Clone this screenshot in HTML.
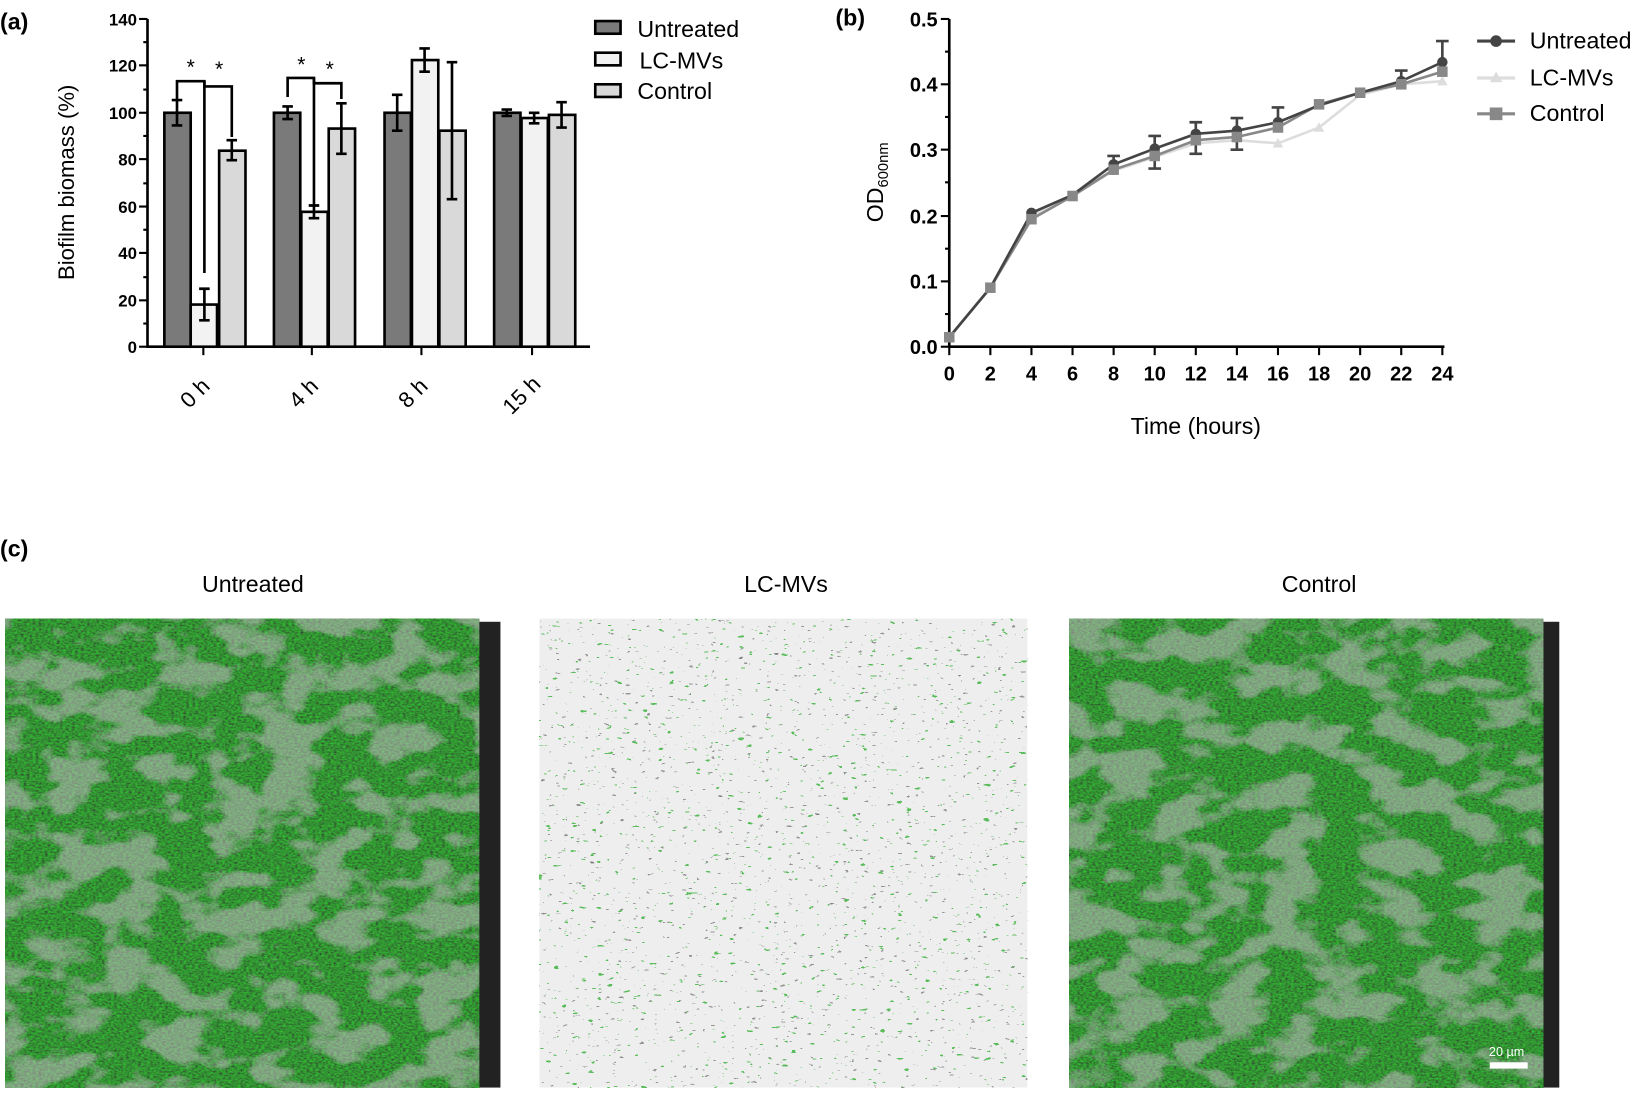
<!DOCTYPE html>
<html><head><meta charset="utf-8"><style>
html,body{margin:0;padding:0;background:#fff}
svg{display:block}
text{font-family:"Liberation Sans",sans-serif}
</style></head><body>
<svg width="1652" height="1096" viewBox="0 0 1568 1040" preserveAspectRatio="none">
<defs>
<filter id="gtex" x="0" y="0" width="100%" height="100%">
 <feTurbulence type="fractalNoise" baseFrequency="0.35 0.6" numOctaves="2" seed="3" result="n"/>
 <feColorMatrix in="n" type="matrix" values="0 0 0 0 0.03  0.7 0 0 0 -0.06  0 0 0 0 0.03  0 0 0 0 1" result="g"/>
 <feTurbulence type="fractalNoise" baseFrequency="0.02 0.035" numOctaves="3" seed="7" result="big"/>
 <feColorMatrix in="big" type="matrix" values="0 0 0 0 0.55  0 0 0 0 0.55  0 0 0 0 0.55  0 0 0 -7 3.7" result="gray0"/>
 <feComponentTransfer in="gray0" result="gray"><feFuncA type="linear" slope="0.35"/></feComponentTransfer>
 <feComposite in="gray" in2="g" operator="over"/>
</filter>
<filter id="ltex" x="0" y="0" width="100%" height="100%">
 <feTurbulence type="fractalNoise" baseFrequency="0.12 0.3" numOctaves="2" seed="11" result="n"/>
 <feComponentTransfer in="n" result="d"><feFuncA type="discrete" tableValues="0 0 0 0 0 0 1 1"/></feComponentTransfer>
 <feColorMatrix in="d" type="matrix" values="0 0 0 0 0.1  0 0 0 0 0.5  0 0 0 0 0.1  0 0 0 1 0" result="gr"/>
 <feTurbulence type="fractalNoise" baseFrequency="0.15 0.35" numOctaves="2" seed="29" result="n2"/>
 <feComponentTransfer in="n2" result="d2"><feFuncA type="discrete" tableValues="0 0 0 0 0 0 0.7 1"/></feComponentTransfer>
 <feColorMatrix in="d2" type="matrix" values="0 0 0 0 0.15  0 0 0 0 0.15  0 0 0 0 0.15  0 0 0 1 0" result="bk"/>
 <feComposite in="gr" in2="bk" operator="over"/>
</filter>
</defs>

<!-- Panel a -->
<text x="0" y="28" font-size="22" font-weight="bold">(a)</text>
<g stroke="#000" stroke-width="2.5">
 <line x1="140" y1="18" x2="140" y2="330"/>
 <line x1="139" y1="329" x2="560" y2="329"/>
 <g stroke-width="2">
 <line x1="132" y1="18" x2="140" y2="18"/><line x1="132" y1="62" x2="140" y2="62"/><line x1="132" y1="107" x2="140" y2="107"/><line x1="132" y1="151" x2="140" y2="151"/><line x1="132" y1="196" x2="140" y2="196"/><line x1="132" y1="240" x2="140" y2="240"/><line x1="132" y1="285" x2="140" y2="285"/><line x1="132" y1="329" x2="140" y2="329"/>
 <line x1="136" y1="40" x2="140" y2="40"/><line x1="136" y1="85" x2="140" y2="85"/><line x1="136" y1="129" x2="140" y2="129"/><line x1="136" y1="174" x2="140" y2="174"/><line x1="136" y1="218" x2="140" y2="218"/><line x1="136" y1="263" x2="140" y2="263"/><line x1="136" y1="307" x2="140" y2="307"/>
 <line x1="193" y1="329" x2="193" y2="337"/><line x1="296" y1="329" x2="296" y2="337"/><line x1="400" y1="329" x2="400" y2="337"/><line x1="505" y1="329" x2="505" y2="337"/>
 </g>
</g>
<g font-size="16" font-weight="bold" text-anchor="end">
<text x="130" y="24">140</text><text x="130" y="68">120</text><text x="130" y="113">100</text><text x="130" y="157">80</text><text x="130" y="202">60</text><text x="130" y="246">40</text><text x="130" y="291">20</text><text x="130" y="335">0</text>
</g>
<text transform="translate(70,173) rotate(-90)" font-size="21" text-anchor="middle">Biofilm biomass (%)</text>
<g font-size="21" text-anchor="middle">
<text transform="translate(190,378) rotate(-45)">0 h</text>
<text transform="translate(293,378) rotate(-45)">4 h</text>
<text transform="translate(397,378) rotate(-45)">8 h</text>
<text transform="translate(500,380) rotate(-45)">15 h</text>
</g>
<g stroke="#000" stroke-width="2.5">
 <rect x="156" y="107" width="25" height="222" fill="#7a7a7a"/>
 <rect x="181" y="289" width="25" height="40" fill="#f2f2f2"/>
 <rect x="208" y="143" width="25" height="186" fill="#d9d9d9"/>
 <rect x="260" y="107" width="25" height="222" fill="#7a7a7a"/>
 <rect x="286" y="201" width="25" height="128" fill="#f2f2f2"/>
 <rect x="312" y="122" width="25" height="207" fill="#d9d9d9"/>
 <rect x="365" y="107" width="25" height="222" fill="#7a7a7a"/>
 <rect x="391" y="57" width="25" height="272" fill="#f2f2f2"/>
 <rect x="417" y="124" width="25" height="205" fill="#d9d9d9"/>
 <rect x="469" y="107" width="25" height="222" fill="#7a7a7a"/>
 <rect x="495" y="112" width="25" height="217" fill="#f2f2f2"/>
 <rect x="521" y="109" width="25" height="220" fill="#d9d9d9"/>
</g>
<g stroke="#000" stroke-width="2.5" fill="none">
 <path d="M168 95V119M163 95H173M163 119H173"/>
 <path d="M194 274V304M189 274H199M189 304H199"/>
 <path d="M220 133V152M215 133H225M215 152H225"/>
 <path d="M273 101V113M268 101H278M268 113H278"/>
 <path d="M298 195V207M293 195H303M293 207H303"/>
 <path d="M324 98V146M319 98H329M319 146H329"/>
 <path d="M377 90V124M372 90H382M372 124H382"/>
 <path d="M403 46V68M398 46H408M398 68H408"/>
 <path d="M429 59V189M424 59H434M424 189H434"/>
 <path d="M481 104V110M476 104H486M476 110H486"/>
 <path d="M507 107V117M502 107H512M502 117H512"/>
 <path d="M533 97V121M528 97H538M528 121H538"/>
 <path d="M168 95V77H194V259"/><path d="M194 77V82H220V130"/>
 <path d="M273 92V74H298V195"/><path d="M298 74V79H324V94"/>
</g>
<g font-size="20" text-anchor="middle"><text x="181" y="70">*</text><text x="208" y="72">*</text><text x="286" y="68">*</text><text x="313" y="72">*</text></g>
<g stroke="#000" stroke-width="2.5">
 <rect x="565" y="20" width="24" height="12" fill="#7a7a7a"/>
 <rect x="565" y="50" width="24" height="12" fill="#f2f2f2"/>
 <rect x="565" y="80" width="24" height="12" fill="#d9d9d9"/>
</g>
<g font-size="22"><text x="605" y="35">Untreated</text><text x="607" y="65">LC-MVs</text><text x="605" y="94">Control</text></g>

<!-- Panel b -->
<text x="793" y="24" font-size="22" font-weight="bold">(b)</text>
<g stroke="#000" stroke-width="2.5">
 <line x1="901" y1="18" x2="901" y2="330"/>
 <line x1="900" y1="329" x2="1371" y2="329"/>
 <g stroke-width="2">
 <line x1="893" y1="18" x2="901" y2="18"/><line x1="893" y1="80" x2="901" y2="80"/><line x1="893" y1="142" x2="901" y2="142"/><line x1="893" y1="205" x2="901" y2="205"/><line x1="893" y1="267" x2="901" y2="267"/><line x1="893" y1="329" x2="901" y2="329"/>
 <line x1="897" y1="49" x2="901" y2="49"/><line x1="897" y1="111" x2="901" y2="111"/><line x1="897" y1="173" x2="901" y2="173"/><line x1="897" y1="236" x2="901" y2="236"/><line x1="897" y1="298" x2="901" y2="298"/>
 <line x1="901" y1="329" x2="901" y2="337"/><line x1="940" y1="329" x2="940" y2="337"/><line x1="979" y1="329" x2="979" y2="337"/><line x1="1018" y1="329" x2="1018" y2="337"/><line x1="1057" y1="329" x2="1057" y2="337"/><line x1="1096" y1="329" x2="1096" y2="337"/><line x1="1135" y1="329" x2="1135" y2="337"/><line x1="1174" y1="329" x2="1174" y2="337"/><line x1="1213" y1="329" x2="1213" y2="337"/><line x1="1252" y1="329" x2="1252" y2="337"/><line x1="1291" y1="329" x2="1291" y2="337"/><line x1="1330" y1="329" x2="1330" y2="337"/><line x1="1369" y1="329" x2="1369" y2="337"/>
 </g>
</g>
<g font-size="19" font-weight="bold" text-anchor="end">
<text x="890" y="25">0.5</text><text x="890" y="87">0.4</text><text x="890" y="149">0.3</text><text x="890" y="212">0.2</text><text x="890" y="274">0.1</text><text x="890" y="336">0.0</text>
</g>
<g font-size="19" font-weight="bold" text-anchor="middle">
<text x="901" y="361">0</text><text x="940" y="361">2</text><text x="979" y="361">4</text><text x="1018" y="361">6</text><text x="1057" y="361">8</text><text x="1096" y="361">10</text><text x="1135" y="361">12</text><text x="1174" y="361">14</text><text x="1213" y="361">16</text><text x="1252" y="361">18</text><text x="1291" y="361">20</text><text x="1330" y="361">22</text><text x="1369" y="361">24</text>
</g>
<text x="1135" y="412" font-size="22" text-anchor="middle">Time (hours)</text>
<text transform="translate(838,173) rotate(-90)" font-size="22" text-anchor="middle">OD<tspan font-size="14" dy="5">600nm</tspan></text>
<g fill="none" stroke-width="2.5">
 <polyline stroke="#ddd" points="901,320 940,273 979,205 1018,186 1057,162 1096,149 1135,136 1174,133 1213,136 1252,121 1291,90 1330,80 1369,77"/>
 <polyline stroke="#888" points="901,320 940,273 979,208 1018,186 1057,161 1096,148 1135,133 1174,130 1213,121 1252,99 1291,88 1330,80 1369,68"/>
 <polyline stroke="#444" points="901,320 940,273 979,202 1018,185 1057,156 1096,141 1135,127 1174,124 1213,116 1252,100 1291,88 1330,77 1369,59"/>
</g>
<g stroke="#444" stroke-width="2.5" fill="none">
 <path d="M1057 156v-8m-6 0h12"/><path d="M1096 141v-12m-6 0h12"/><path d="M1135 127v-11m-6 0h12"/><path d="M1174 124v-12m-6 0h12"/><path d="M1213 116v-14m-6 0h12"/><path d="M1330 77v-10m-6 0h12"/><path d="M1369 59v-20m-6 0h12"/>
 <path d="M1096 148v12m-6 0h12"/><path d="M1135 133v13m-6 0h12"/><path d="M1174 130v12m-6 0h12"/>
</g>
<g fill="#444"><circle cx="979" cy="202" r="5"/><circle cx="1057" cy="156" r="5"/><circle cx="1096" cy="141" r="5"/><circle cx="1135" cy="127" r="5"/><circle cx="1174" cy="124" r="5"/><circle cx="1213" cy="116" r="5"/><circle cx="1330" cy="77" r="5"/><circle cx="1369" cy="59" r="5"/></g>
<g fill="#ddd"><path d="M1213 131l5 9h-10z"/><path d="M1252 116l5 9h-10z"/><path d="M1369 72l5 9h-10z"/></g>
<g fill="#888">
 <rect x="896" y="315" width="10" height="10"/><rect x="935" y="268" width="10" height="10"/><rect x="974" y="203" width="10" height="10"/><rect x="1013" y="181" width="10" height="10"/><rect x="1052" y="156" width="10" height="10"/><rect x="1091" y="143" width="10" height="10"/><rect x="1130" y="128" width="10" height="10"/><rect x="1169" y="125" width="10" height="10"/><rect x="1208" y="116" width="10" height="10"/><rect x="1247" y="94" width="10" height="10"/><rect x="1286" y="83" width="10" height="10"/><rect x="1325" y="75" width="10" height="10"/><rect x="1364" y="63" width="10" height="10"/>
</g>
<g stroke-width="3">
 <line x1="1402" y1="39" x2="1438" y2="39" stroke="#444"/><circle cx="1420" cy="39" r="5.5" fill="#444"/>
 <line x1="1402" y1="74" x2="1438" y2="74" stroke="#ddd"/><path d="M1420 68l6 10h-12z" fill="#ddd"/>
 <line x1="1402" y1="108" x2="1438" y2="108" stroke="#888"/><rect x="1414" y="102" width="12" height="12" fill="#888"/>
</g>
<g font-size="22"><text x="1452" y="46">Untreated</text><text x="1452" y="81">LC-MVs</text><text x="1452" y="115">Control</text></g>

<!-- Panel c -->
<text x="0" y="528" font-size="22" font-weight="bold">(c)</text>
<g font-size="22" text-anchor="middle"><text x="240" y="562">Untreated</text><text x="746" y="562">LC-MVs</text><text x="1252" y="562">Control</text></g>

<rect x="5" y="587" width="450" height="445" fill="#1f5a1a"/>
<rect x="5" y="587" width="450" height="445" filter="url(#gtex)"/>
<rect x="455" y="590" width="20" height="442" fill="#222"/>

<rect x="512" y="587" width="463" height="445" fill="#eeeeee"/>
<rect x="512" y="587" width="463" height="445" filter="url(#ltex)"/>

<rect x="1015" y="587" width="450" height="445" fill="#1f5a1a"/>
<rect x="1015" y="587" width="450" height="445" filter="url(#gtex)"/>
<rect x="1465" y="590" width="15" height="442" fill="#222"/>
<rect x="1414" y="1008" width="36" height="6" fill="#fff"/>
<text x="1430" y="1002" font-size="12" fill="#fff" text-anchor="middle">20 µm</text>
</svg>
</body></html>
